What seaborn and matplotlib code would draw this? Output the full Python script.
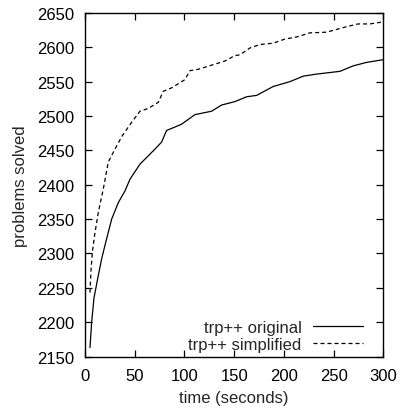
import matplotlib
matplotlib.use("Agg")
import matplotlib.pyplot as plt
import seaborn as sns
import pandas as pd

# readings (time in s, problems solved)
t_orig = [5, 6.7, 9, 12.7, 16.7, 20.8, 26.8, 33.5, 40.2, 45.2, 55.3, 63.6, 70.4, 77, 82,
          90.5, 97, 110.5, 127.3, 137.4, 150.8, 162.5, 172.5, 189.3, 206, 219.4, 232.8,
          256.3, 269.7, 283, 300]
v_orig = [2163, 2200, 2235, 2263, 2292, 2316, 2350, 2374, 2391, 2408, 2430, 2442, 2452, 2462, 2479,
          2484, 2488, 2502, 2507, 2516, 2521, 2528, 2530, 2543, 2550, 2558, 2561,
          2565, 2573, 2578, 2582]
t_simp = [5, 6, 7.4, 10, 13.4, 18.4, 23.4, 30.2, 36.9, 46.9, 55.3, 63.6, 73.7, 78.7, 87.1,
          100.5, 105.5, 113.9, 127.3, 140.7, 150.8, 155.8, 165.8, 175.9, 189.3, 201, 212.8,
          226, 243, 253, 263, 274.7, 286.4, 300]
v_simp = [2243, 2275, 2302, 2330, 2360, 2394, 2433, 2452, 2470, 2491, 2507, 2511, 2520, 2536, 2541,
          2553, 2566, 2568, 2574, 2580, 2588, 2589, 2599, 2604, 2606, 2612, 2615,
          2621, 2622, 2626, 2630, 2634, 2634, 2637]
labels = ["trp++ original", "trp++ simplified"]
x_ticks = [0, 50, 100, 150, 200, 250, 300]
y_ticks = [2150, 2200, 2250, 2300, 2350, 2400, 2450, 2500, 2550, 2600, 2650]

sns.set_style("ticks")
plt.rcParams['font.family'] = ['Liberation Sans', 'DejaVu Sans']
fs = 12

df_o = pd.DataFrame({'t': t_orig, 'v': v_orig})
df_s = pd.DataFrame({'t': t_simp, 'v': v_simp})

fig = plt.figure(figsize=(4.01, 4.10), dpi=100)
ax = fig.add_axes([0.212, 0.128, 0.744, 0.838])
sns.lineplot(data=df_o, x='t', y='v', ax=ax, color='black', lw=0.9, label=labels[0])
sns.lineplot(data=df_s, x='t', y='v', ax=ax, color='black', lw=0.9,
             linestyle=(0, (3.2, 2.4)), label=labels[1])

ax.set_xlim(0, 300)
ax.set_ylim(2150, 2650)
ax.set_xticks(x_ticks)
ax.set_yticks(y_ticks)
ax.tick_params(direction='in', length=5, width=0.9, top=True, right=True,
               labelsize=fs, pad=8, colors='black')
for s in ax.spines.values():
    s.set_linewidth(1.0)
    s.set_color('black')
ax.set_xlabel("time (seconds)", fontsize=fs, labelpad=5)
ax.set_ylabel("problems solved", fontsize=fs, labelpad=6)

ax.legend(loc='lower right', frameon=False, markerfirst=False, fontsize=fs,
          handlelength=3.0, handletextpad=0.7, labelspacing=0.1,
          borderpad=0, borderaxespad=0, bbox_to_anchor=(0.932, 0.014))

fig.savefig("out.png", dpi=100)
